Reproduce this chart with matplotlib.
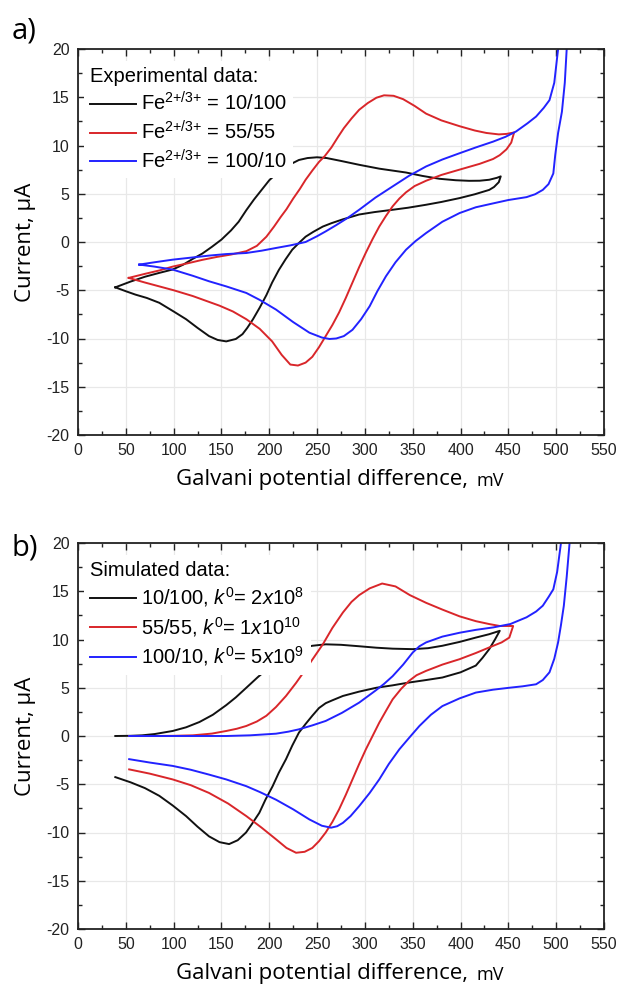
import matplotlib
matplotlib.use("Agg")
import matplotlib.pyplot as plt
from matplotlib.ticker import MultipleLocator

plt.rcParams['font.family'] = ['Liberation Sans', 'DejaVu Sans']
plt.rcParams['mathtext.fontset'] = 'custom'
plt.rcParams['mathtext.rm'] = 'Liberation Sans'
plt.rcParams['mathtext.it'] = 'Liberation Sans:italic'
plt.rcParams['mathtext.default'] = 'regular'
plt.rcParams['axes.unicode_minus'] = False

# ---------------- Panel a: experimental data ----------------
exp_black_x = [39, 55, 70, 85, 99, 110, 120, 130, 140, 150, 160, 168, 176, 184, 192, 200, 210, 220, 231, 240, 250, 260, 275, 294, 315, 343, 360, 378, 395, 409, 420, 430, 438, 442,
               440, 435, 430, 415, 399, 380, 364, 345, 329, 310, 294, 277, 265, 256, 246, 238, 231, 224, 217, 210, 203, 197, 190, 183, 177, 172, 165, 155, 146, 137, 125, 113, 100, 85, 72, 60, 50, 39]
exp_black_y = [-4.7, -4.1, -3.6, -3.2, -2.85, -2.35, -1.75, -1.2, -0.5, 0.25, 1.2, 2.1, 3.3, 4.4, 5.4, 6.4, 7.3, 7.95, 8.5, 8.7, 8.78, 8.7, 8.4, 8.0, 7.6, 7.2, 6.85, 6.55, 6.4, 6.34, 6.35, 6.45, 6.65, 6.8,
               6.2, 5.7, 5.4, 4.95, 4.55, 4.15, 3.86, 3.55, 3.34, 3.1, 2.85, 2.35, 1.95, 1.6, 1.05, 0.55, -0.1, -0.8, -1.8, -2.9, -4.2, -5.5, -6.8, -8.0, -8.9, -9.55, -10.05, -10.3, -10.15, -9.75, -8.9, -8.0, -7.2, -6.3, -5.8, -5.45, -5.1, -4.7]

exp_red_x = [53, 70, 85, 99, 115, 130, 145, 160, 176, 187, 197, 205, 212, 218, 225, 232, 238, 245, 252, 258, 265, 272, 278, 286, 294, 303, 312, 320, 330, 340, 352, 364, 380, 399, 415, 427, 440, 448, 456,
             453, 448, 441, 434, 420, 399, 380, 364, 352, 343, 336, 329, 322, 315, 308, 301, 294, 287, 280, 273, 266, 259, 252, 245, 238, 230, 222, 213, 203, 190, 176, 162, 148, 134, 120, 100, 85, 70, 53]
exp_red_y = [-3.72, -3.3, -2.95, -2.55, -2.2, -1.85, -1.55, -1.3, -0.95, -0.4, 0.55, 1.6, 2.6, 3.4, 4.5, 5.5, 6.45, 7.4, 8.3, 8.9, 9.8, 10.9, 11.8, 12.8, 13.7, 14.4, 14.95, 15.2, 15.15, 14.8, 14.1, 13.3, 12.6, 12.0, 11.55, 11.3, 11.15, 11.2, 11.35,
             10.3, 9.6, 9.0, 8.6, 8.1, 7.5, 6.95, 6.35, 5.8, 5.15, 4.5, 3.7, 2.7, 1.6, 0.3, -1.1, -2.6, -4.2, -5.8, -7.3, -8.6, -9.75, -10.9, -11.9, -12.5, -12.8, -12.7, -11.7, -10.3, -9.0, -8.0, -7.2, -6.6, -6.1, -5.6, -5.0, -4.6, -4.2, -3.72]

exp_blue_x = [64, 80, 99, 120, 137, 155, 176, 192, 207, 222, 238, 250, 259, 270, 282, 294, 311, 329, 346, 364, 381, 399, 416, 434, 447, 458, 470, 479, 487, 493, 498, 502, 506,
              511, 509, 506, 502, 499, 497, 492, 486, 478, 469, 450, 434, 416, 399, 381, 364, 353, 343, 332, 322, 313, 305, 296, 287, 278, 270, 263, 255, 242, 225, 207, 190, 176, 155, 137, 120, 99, 80, 64]
exp_blue_y = [-2.34, -2.1, -1.83, -1.6, -1.41, -1.25, -1.14, -0.9, -0.62, -0.35, 0.0, 0.6, 1.1, 1.75, 2.5, 3.34, 4.6, 5.76, 6.85, 7.83, 8.55, 9.2, 9.8, 10.4, 10.9, 11.45, 12.3, 13.0, 13.9, 14.7, 16.5, 20.0, 25.0,
              20.0, 16.5, 13.5, 11.3, 9.0, 7.1, 6.0, 5.4, 4.95, 4.65, 4.35, 4.0, 3.6, 3.0, 2.1, 0.93, 0.1, -0.8, -2.1, -3.55, -5.1, -6.65, -8.0, -9.1, -9.75, -10.0, -10.05, -9.9, -9.4, -8.3, -7.0, -6.0, -5.28, -4.6, -4.07, -3.5, -2.86, -2.55, -2.34]

exp_labels = ['Fe$^{\\text{2+/3+}}$ = 10/100', 'Fe$^{\\text{2+/3+}}$ = 55/55', 'Fe$^{\\text{2+/3+}}$ = 100/10']

# ---------------- Panel b: simulated data ----------------
sim_black_x = [39, 55, 67, 80, 99, 113, 127, 141, 155, 165, 176, 188, 200, 212, 222, 231, 245, 259, 275, 294, 312, 329, 350, 366, 381, 399, 416, 430, 441,
               436, 430, 423, 416, 400, 381, 364, 346, 329, 312, 294, 277, 266, 259, 252, 245, 238, 231, 224, 217.5, 210, 203.5, 196, 189.6, 182, 175.7, 167, 158, 148, 137, 125, 113, 99, 85, 70, 55, 39]
sim_black_y = [0.0, 0.02, 0.07, 0.2, 0.52, 0.9, 1.45, 2.2, 3.2, 4.0, 5.0, 6.1, 7.1, 8.0, 8.6, 9.07, 9.35, 9.5, 9.45, 9.3, 9.15, 9.05, 9.0, 9.1, 9.35, 9.75, 10.2, 10.55, 10.9,
               10.0, 9.0, 8.1, 7.3, 6.6, 6.06, 5.8, 5.54, 5.25, 5.0, 4.6, 4.15, 3.7, 3.4, 2.9, 2.1, 1.25, 0.35, -1.0, -2.4, -3.8, -5.2, -6.6, -7.96, -9.1, -10.0, -10.8, -11.2, -11.0, -10.4, -9.4, -8.3, -7.2, -6.2, -5.4, -4.8, -4.26]

sim_red_x = [53.5, 80, 100, 120, 140, 155, 166, 176, 187, 197, 207, 217.5, 228, 238, 247, 256, 266, 277, 286, 294, 305, 318, 332, 347, 364, 381, 399, 416, 430, 441, 455,
             453, 451, 443, 434, 416, 399, 381, 364, 354, 346, 338, 329, 322, 315, 308, 301, 294, 287, 280, 273, 266, 259, 252, 245, 237, 228, 218, 207, 192, 176, 157, 137, 118, 99, 75, 53.5]
sim_red_y = [0.0, 0.0, 0.02, 0.07, 0.25, 0.52, 0.75, 1.04, 1.5, 2.1, 3.0, 4.15, 5.5, 6.9, 8.2, 9.5, 11.2, 12.8, 13.9, 14.6, 15.3, 15.8, 15.5, 14.6, 13.8, 13.1, 12.4, 11.9, 11.6, 11.4, 11.4,
             10.8, 10.2, 9.7, 9.34, 8.6, 7.96, 7.4, 6.75, 6.3, 5.7, 4.9, 3.8, 2.6, 1.38, 0.0, -1.38, -2.9, -4.5, -6.1, -7.6, -8.9, -10.0, -10.9, -11.6, -12.0, -12.1, -11.6, -10.7, -9.5, -8.3, -7.0, -5.9, -5.1, -4.5, -3.9, -3.46]

sim_blue_x = [53.5, 100, 155, 180, 207, 220, 231, 245, 259, 276, 294, 311, 320, 329, 340, 350, 357, 364, 381, 399, 416, 434, 452, 469, 479, 486, 492, 497, 501, 505, 509,
              514, 511, 508, 505, 502, 498, 493, 486, 479, 465, 451, 434, 416, 399, 381, 369, 357, 347, 336, 325, 315, 305, 294, 285, 277, 271, 264.6, 255, 242, 225, 207, 190, 176, 155, 137, 118, 99, 75, 53.5]
sim_blue_y = [0.0, 0.0, 0.0, 0.07, 0.24, 0.45, 0.69, 1.1, 1.56, 2.4, 3.46, 4.7, 5.4, 6.2, 7.4, 8.65, 9.3, 9.7, 10.3, 10.7, 11.0, 11.25, 11.6, 12.3, 12.9, 13.5, 14.4, 15.2, 17.0, 20.0, 25.0,
              20.0, 16.5, 13.5, 11.5, 9.7, 8.0, 6.6, 5.8, 5.36, 5.15, 5.0, 4.8, 4.5, 3.9, 3.1, 2.2, 1.04, -0.1, -1.38, -2.9, -4.5, -5.9, -7.27, -8.3, -9.0, -9.35, -9.5, -9.3, -8.65, -7.6, -6.6, -5.8, -5.2, -4.5, -4.0, -3.5, -3.1, -2.75, -2.4]

sim_labels = ['10/100, $\\mathit{k}^{\\mathit{0}}$= 2$\\mathit{x}$10$^{8}$',
              '55/55, $\\mathit{k}^{\\mathit{0}}$= 1$\\mathit{x}$10$^{10}$',
              '100/10, $\\mathit{k}^{\\mathit{0}}$= 5$\\mathit{x}$10$^{9}$']

x_ticks = list(range(0, 551, 50))
y_ticks = list(range(-20, 21, 5))

colors = ['#111111', '#d9262a', '#2222ff']

fig = plt.figure(figsize=(6.19, 9.9), dpi=100)
W, H = 619, 990
ax_a = fig.add_axes([78 / W, 1 - 435 / H, 526 / W, 386 / H])
ax_b = fig.add_axes([78 / W, 1 - 929 / H, 526 / W, 386 / H])

panels = [
    (ax_a, [(exp_black_x, exp_black_y), (exp_red_x, exp_red_y), (exp_blue_x, exp_blue_y)], exp_labels, 'Experimental data:', 0),
    (ax_b, [(sim_black_x, sim_black_y), (sim_red_x, sim_red_y), (sim_blue_x, sim_blue_y)], sim_labels, 'Simulated data:', 494),
]

for ax, series, labels, title, off in panels:
    for (xs, ys), c, lab in zip(series, colors, labels):
        ax.plot(xs, ys, color=c, lw=1.4, label=lab, solid_joinstyle='round')
    ax.set_xlim(0, 550)
    ax.set_ylim(-20, 20)
    ax.set_xticks(x_ticks)
    ax.set_yticks(y_ticks)
    ax.xaxis.set_minor_locator(MultipleLocator(25))
    ax.yaxis.set_minor_locator(MultipleLocator(2.5))
    ax.tick_params(which='both', direction='in', top=True, right=True, labelsize=11.5, width=1.0, colors='#222222')
    ax.tick_params(which='major', length=5, pad=6)
    ax.tick_params(which='minor', length=3)
    ax.grid(True, which='major', color='#e8e8e8', lw=0.9)
    ax.set_axisbelow(True)
    for s in ax.spines.values():
        s.set_linewidth(1.3)
        s.set_color('#222222')
    leg = ax.legend(loc='upper left', bbox_to_anchor=(0.0, 0.985), title=title, alignment='left',
                    fontsize=14.5, title_fontsize=14.5, frameon=True, facecolor='white', edgecolor='none',
                    framealpha=1.0, fancybox=False, handlelength=2.3, handletextpad=0.25,
                    labelspacing=0.28, borderpad=0.3, borderaxespad=0.3)
    leg.set_zorder(5)
    # axis titles
    fig.text(468 / W, 1 - (479 + off) / H, 'Galvani potential difference,', family='Open Sans',
             fontsize=16, ha='right', va='center')
    fig.text(476 / W, 1 - (481 + off) / H, 'mV', family='Open Sans', fontsize=13, ha='left', va='center')
    fig.text(25 / W, 1 - (242 + off) / H, 'Current, \u03bcA', family='Open Sans', fontsize=16,
             rotation=90, ha='center', va='center')

fig.text(12 / W, 1 - 31 / H, 'a)', family='Open Sans', fontsize=21, va='center', ha='left')
fig.text(12 / W, 1 - 548 / H, 'b)', family='Open Sans', fontsize=21, va='center', ha='left')

fig.savefig('out.png', dpi=100)
